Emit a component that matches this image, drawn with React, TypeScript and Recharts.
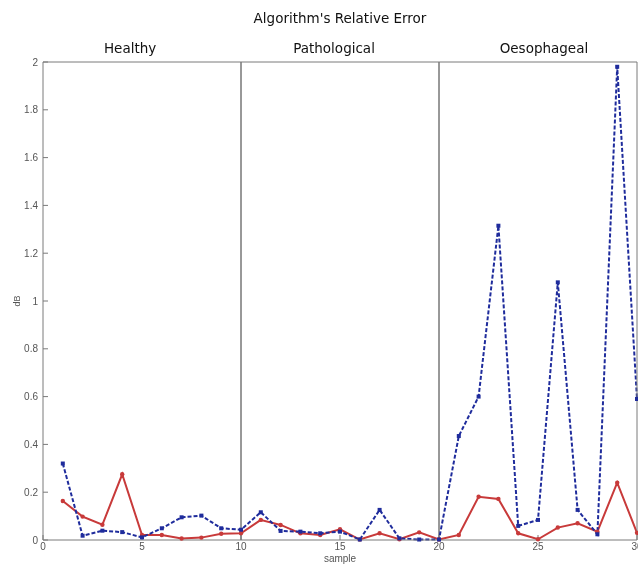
import React from 'react';
import { LineChart, Line, XAxis, YAxis, ReferenceLine } from 'recharts';

// sample index (x axis)
const SAMPLES = [1, 2, 3, 4, 5, 6, 7, 8, 9, 10, 11, 12, 13, 14, 15, 16, 17, 18, 19, 20, 21, 22, 23, 24, 25, 26, 27, 28, 29, 30];

// relative error in dB, blue dashed series
const ERROR_BLUE = [0.32, 0.018, 0.039, 0.033, 0.011, 0.049, 0.095, 0.102, 0.049, 0.043, 0.116, 0.038, 0.035, 0.028, 0.035, 0.002, 0.126, 0.007, 0.002, 0.002, 0.435, 0.6, 1.315, 0.059, 0.084, 1.078, 0.126, 0.024, 1.98, 0.59];

// relative error in dB, red solid series
const ERROR_RED = [0.163, 0.098, 0.064, 0.275, 0.021, 0.021, 0.006, 0.01, 0.026, 0.028, 0.084, 0.063, 0.028, 0.021, 0.045, 0.002, 0.028, 0.003, 0.032, 0.002, 0.021, 0.181, 0.172, 0.028, 0.003, 0.052, 0.07, 0.035, 0.24, 0.03];

const X_TICKS = [0, 5, 10, 15, 20, 25, 30];
const Y_TICKS = [0, 0.2, 0.4, 0.6, 0.8, 1, 1.2, 1.4, 1.6, 1.8, 2];
const SECTION_BOUNDS = [10, 20];
const SECTIONS = ['Healthy', 'Pathological', 'Oesophageal'];
const TITLE = "Algorithm's Relative Error";

// where the section headings sit (in sample units)
const SECTION_LABEL_X = [4.4, 14.7, 25.3];

const BLUE = '#1f2c9c';
const RED = '#c83a3a';
const AXIS = '#7a7a7a';

const data = SAMPLES.map((s, i) => ({ sample: s, blue: ERROR_BLUE[i], red: ERROR_RED[i] }));

const tickStyle = { fontFamily: 'Liberation Sans, Arial, sans-serif', fontSize: 10, fill: '#555' };

const SquareDot = (props: any) => {
  const { cx, cy, index } = props;
  if (cx == null || cy == null) return null;
  return <rect key={`sq-${index}`} x={cx - 2} y={cy - 2} width={4} height={4} fill={BLUE} />;
};

const RoundDot = (props: any) => {
  const { cx, cy, index } = props;
  if (cx == null || cy == null) return null;
  return <circle key={`rd-${index}`} cx={cx} cy={cy} r={2.2} fill={RED} />;
};

const YLabel = (props: any) => {
  const vb = props.viewBox || {};
  const cx = 9;
  const cy = vb.y + vb.height / 2;
  return (
    <text x={cx} y={cy} transform={`rotate(-90 ${cx} ${cy})`} textAnchor="middle" dominantBaseline="central"
      style={{ fontFamily: 'Liberation Sans, Arial, sans-serif', fontSize: 9, fill: '#555' }}>
      dB
    </text>
  );
};

export default function App() {
  return (
    // fixed frame so the page never scrolls; the chart runs past the bottom/right edge like the source image
    <div style={{ position: 'fixed', left: 8, top: 8, width: 630, height: 556, overflow: 'hidden' }}>
      <LineChart width={630} height={570} data={data} margin={{ top: 53, right: 0, bottom: 0, left: 0 }}>
        <XAxis
          dataKey="sample"
          type="number"
          domain={[0, 30]}
          ticks={X_TICKS}
          interval={0}
          height={38}
          tickSize={-5}
          tickMargin={8}
          stroke={AXIS}
          tick={tickStyle}
          label={{ value: 'sample', position: 'insideBottom', offset: 16, style: { ...tickStyle, fontSize: 10 } }}
        />
        <XAxis xAxisId="top" orientation="top" dataKey="sample" type="number" domain={[0, 30]} ticks={X_TICKS}
          height={1} tickSize={-5} tick={false} stroke={AXIS} />
        <YAxis
          type="number"
          domain={[0, 2]}
          ticks={Y_TICKS}
          interval={0}
          width={35}
          tickSize={-5}
          tickMargin={10}
          stroke={AXIS}
          tick={tickStyle}
          label={<YLabel />}
        />
        <YAxis yAxisId="right" orientation="right" type="number" domain={[0, 2]} ticks={Y_TICKS}
          width={1} tickSize={-5} tick={false} stroke={AXIS} />

        {SECTION_BOUNDS.map((b) => (
          <ReferenceLine key={`b-${b}`} x={b} stroke="#333" strokeWidth={1} />
        ))}

        {SECTIONS.map((name, i) => (
          <ReferenceLine key={name} x={SECTION_LABEL_X[i]} stroke="none"
            label={{ value: name, position: 'top', offset: 9, style: { fontFamily: 'DejaVu Sans, sans-serif', fontSize: 13.5, fill: '#111' } }} />
        ))}
        <ReferenceLine x={15} stroke="none"
          label={{ value: TITLE, position: 'top', offset: 39, style: { fontFamily: 'DejaVu Sans, sans-serif', fontSize: 13.5, fill: '#111' } }} />

        <Line type="linear" dataKey="red" stroke={RED} strokeWidth={2} dot={RoundDot} isAnimationActive={false} />
        <Line type="linear" dataKey="blue" stroke={BLUE} strokeWidth={2} strokeDasharray="4 2" dot={SquareDot} isAnimationActive={false} />
      </LineChart>
    </div>
  );
}
